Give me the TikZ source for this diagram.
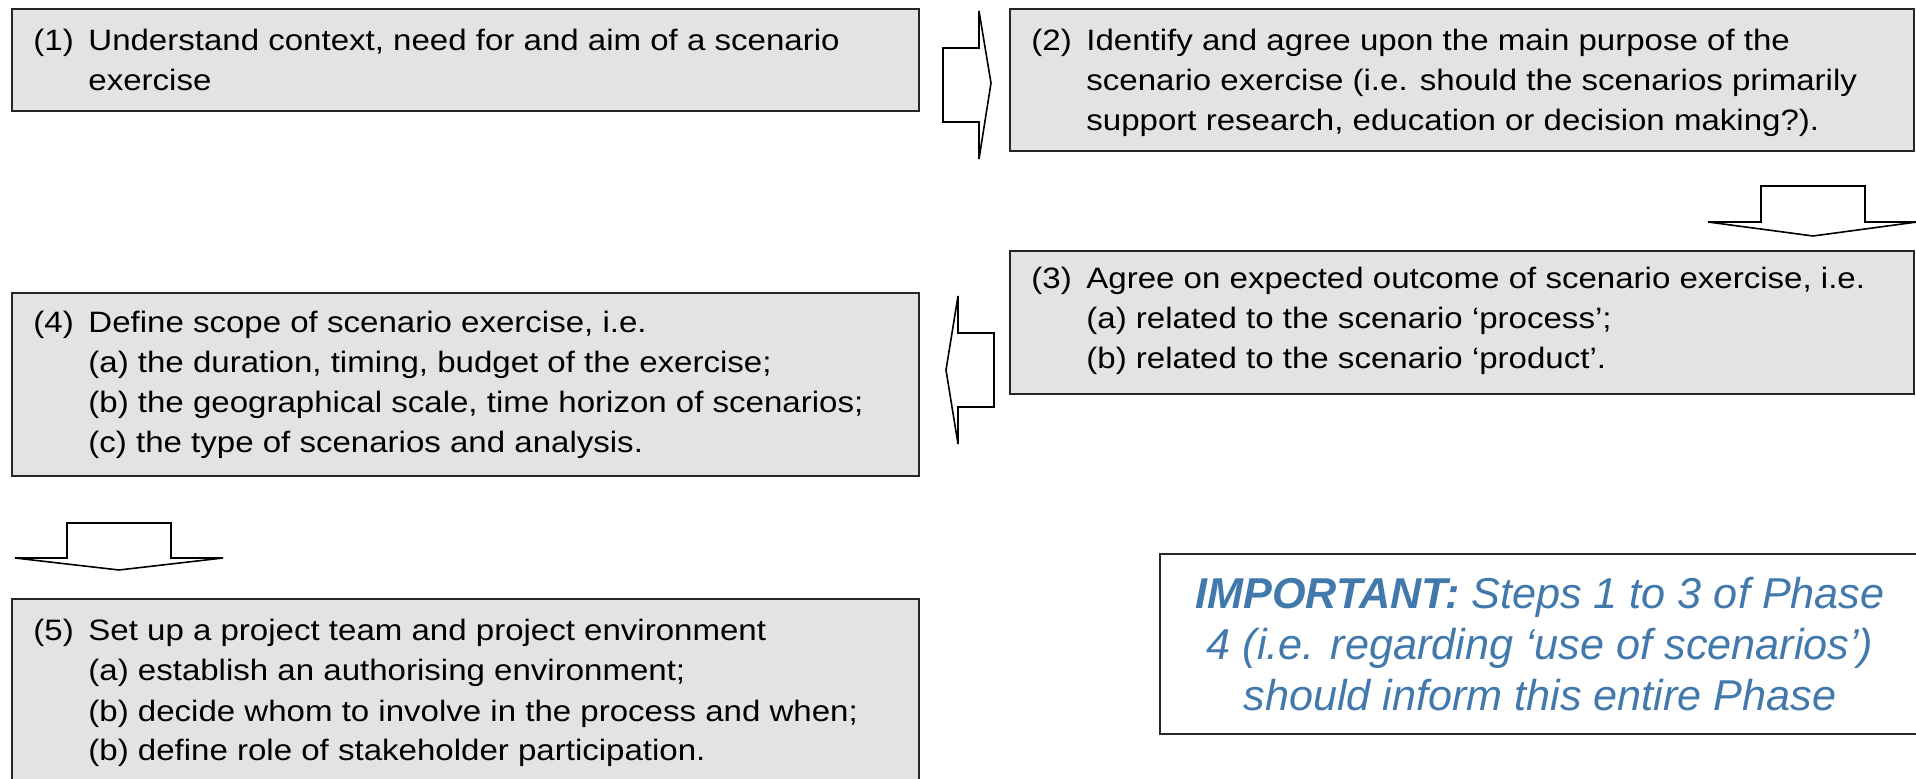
\documentclass[tikz,border=0pt]{standalone}
\usepackage{fontspec}
\setmainfont{Liberation Sans}
\newfontfamily\stepfont{Liberation Sans}[FakeStretch=1.12]
\definecolor{stepgray}{RGB}{227,227,227}
\definecolor{noteblue}{RGB}{66,121,172}

\begin{document}
\begin{tikzpicture}[x=0.5pt,y=-0.5pt,
  stepbox/.style={draw=black!85, line width=1pt, fill=stepgray, anchor=north west, inner sep=0pt},
  steptext/.style={font=\stepfont\fontsize{14.75}{20}\selectfont, align=left, inner sep=0pt, anchor=base west},
  notebox/.style={draw=black!85, line width=1pt, minimum width=380pt, minimum height=90pt},
  notetext/.style={text=noteblue, align=center, font=\itshape\fontsize{21.6}{25.5}\selectfont},
  blockarrow/.style={draw=black, line width=0.8pt, fill=white, line join=miter}]
  \path[use as bounding box] (0,0) rectangle (1916,779);
  \clip (0,0) rectangle (1916,779);

  % step boxes
  \node[stepbox, minimum width=453.5pt, minimum height=51pt] (box1) at (11,8) {};
  \node[stepbox, minimum width=452pt, minimum height=71pt] (box2) at (1009,8) {};
  \node[stepbox, minimum width=452pt, minimum height=71.5pt] (box3) at (1009,250) {};
  \node[stepbox, minimum width=453.5pt, minimum height=91.5pt] (box4) at (11,292) {};
  \node[stepbox, minimum width=453.5pt, minimum height=92.5pt] (box5) at (11,598) {};

  % step texts (base = baseline of the last line)
  \node[steptext] (num1) at (33,51) {(1)};
  \node[steptext] (txt1) at (88,91) {Understand context, need for and aim of a scenario\\exercise};
  \node[steptext] (num2) at (1031,51) {(2)};
  \node[steptext] (txt2) at (1086,131) {Identify and agree upon the main purpose of the\\scenario exercise (i.e. should the scenarios primarily\\support research, education or decision making?).};
  \node[steptext] (num3) at (1031,289) {(3)};
  \node[steptext] (txt3) at (1086,369) {Agree on expected outcome of scenario exercise, i.e.\\(a) related to the scenario ‘process’;\\(b) related to the scenario ‘product’.};
  \node[steptext] (num4) at (33,333) {(4)};
  \node[steptext] (txt4) at (88,453) {Define scope of scenario exercise, i.e.\\(a) the duration, timing, budget of the exercise;\\(b) the geographical scale, time horizon of scenarios;\\(c) the type of scenarios and analysis.};
  \node[steptext] (num5) at (33,641) {(5)};
  \node[steptext] (txt5) at (88,761) {Set up a project team and project environment\\(a) establish an authorising environment;\\(b) decide whom to involve in the process and when;\\(b) define role of stakeholder participation.};

  % block arrows
  \draw[blockarrow] (943,48) -- (979,48) -- (979,11) -- (991,83) -- (979,159) -- (979,122) -- (943,122) -- cycle;
  \draw[blockarrow] (1761,186) -- (1865,186) -- (1865,222) -- (1917,222) -- (1813,236) -- (1708,222) -- (1761,222) -- cycle;
  \draw[blockarrow] (994,333) -- (958,333) -- (958,296) -- (946,370) -- (958,444) -- (958,407) -- (994,407) -- cycle;
  \draw[blockarrow] (67,523) -- (171,523) -- (171,558) -- (223,558) -- (119,570) -- (15,558) -- (67,558) -- cycle;

  % note
  \node[notebox] (note) at (1540,644) {};
  \node[notetext] (notetxt) at (note.center) {\textbf{IMPORTANT:} Steps 1 to 3 of Phase\\4 (i.e. regarding ‘use of scenarios’)\\should inform this entire Phase};
\end{tikzpicture}
\end{document}
